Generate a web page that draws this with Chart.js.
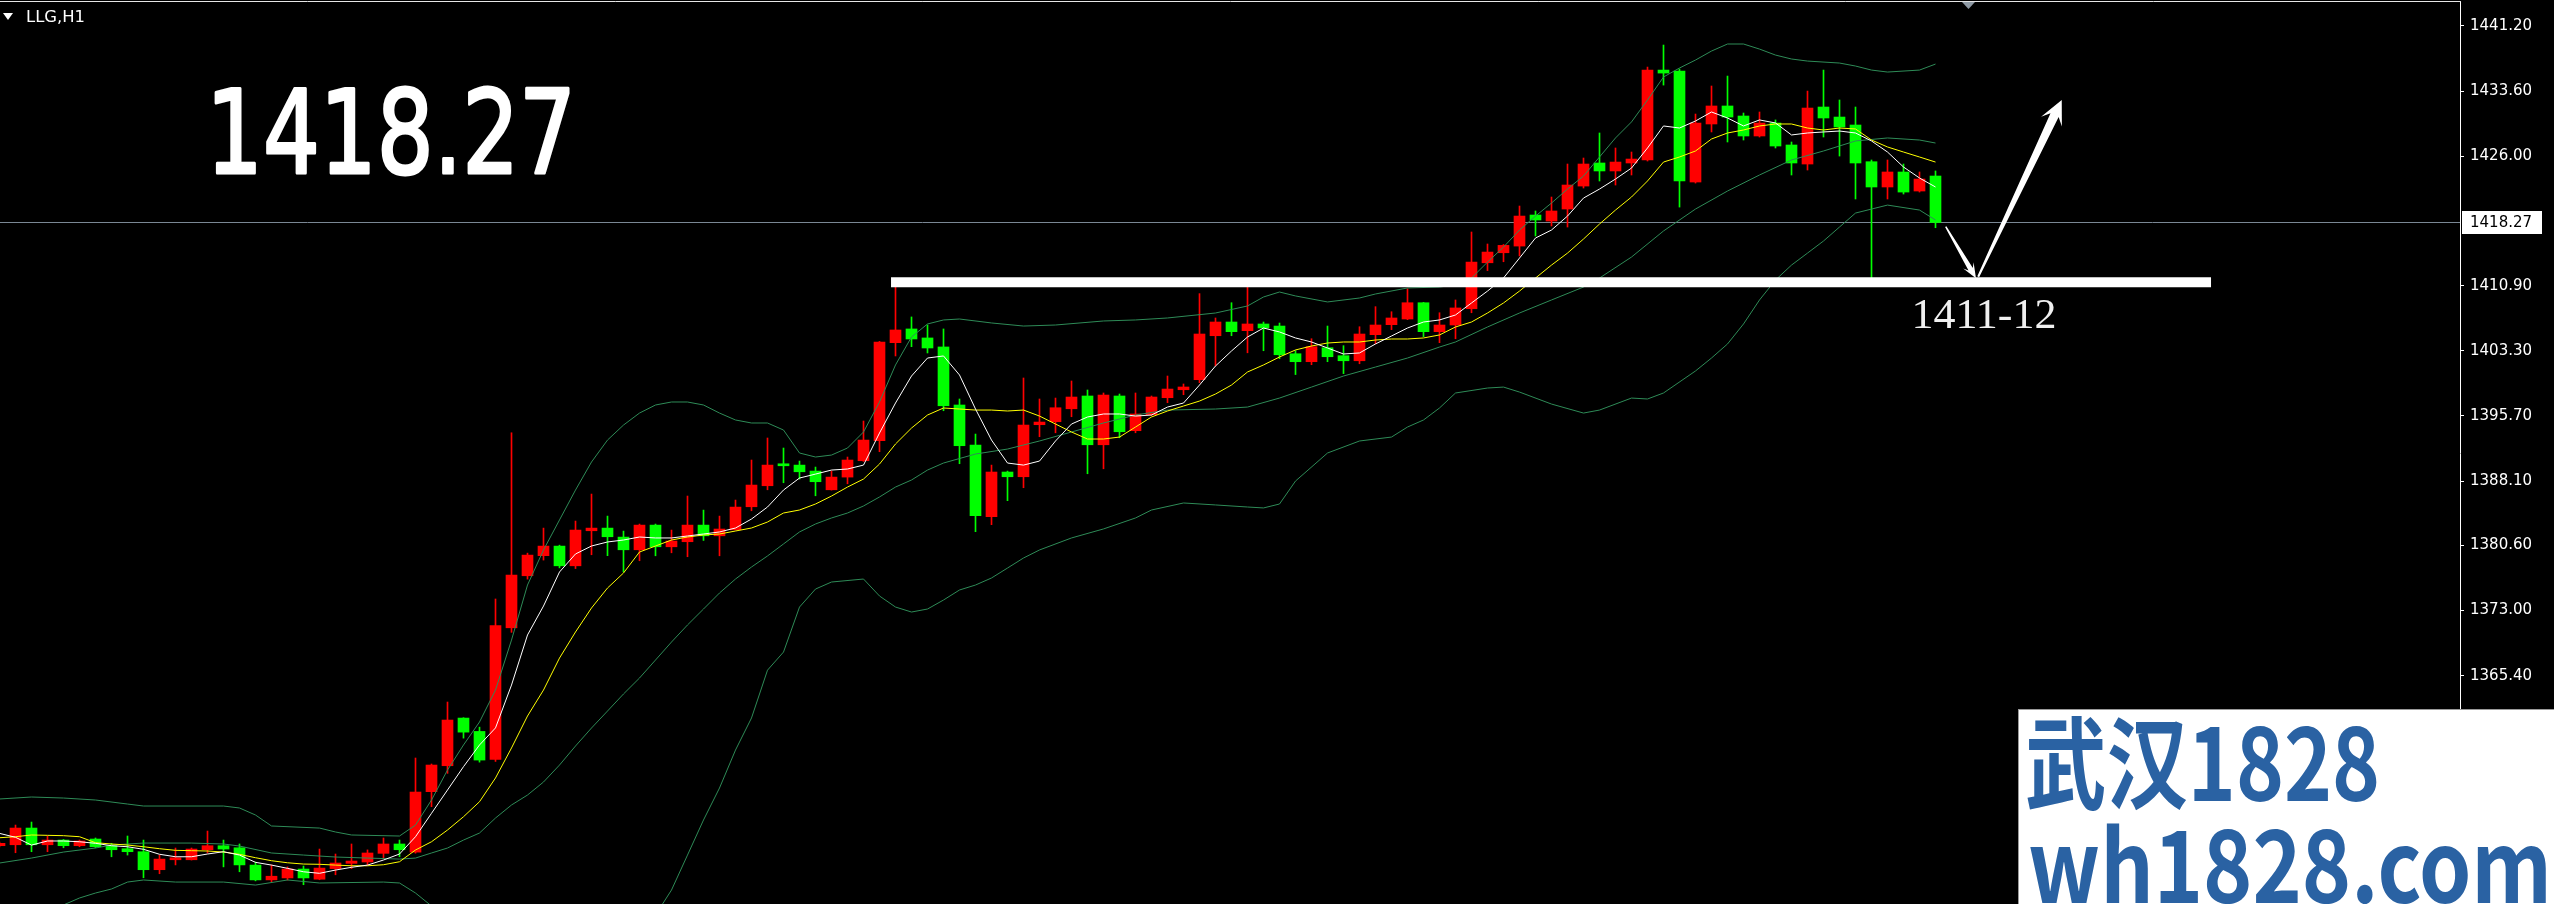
<!DOCTYPE html>
<html>
<head>
<meta charset="utf-8">
<title>LLG,H1</title>
<script src="https://cdn.jsdelivr.net/npm/chart.js@4.4.1/dist/chart.umd.min.js"></script>
<style>
  html, body { margin: 0; padding: 0; background: #000; overflow: hidden; }
  canvas { display: block; }
</style>
</head>
<body>
<canvas id="llgChart" width="2554" height="904"></canvas>
<script>
const symbolTitle = 'LLG,H1'

// hourly candles, oldest first
const candleOpen = [
  1345.57, 1345.68, 1347.63, 1345.68, 1346.23, 1345.57, 1346.35, 1345.57, 1345.22, 1344.87,
  1342.77, 1343.93, 1343.93, 1345.10, 1345.57, 1345.33, 1343.31, 1341.58, 1341.81, 1342.85,
  1341.66, 1342.90, 1343.51, 1343.67, 1344.68, 1345.77, 1344.82, 1351.87, 1354.90, 1360.46,
  1358.90, 1355.64, 1370.99, 1377.06, 1379.40, 1380.52, 1378.22, 1382.31, 1382.62, 1381.57,
  1380.09, 1382.97, 1380.44, 1381.03, 1382.97, 1381.72, 1382.42, 1385.11, 1387.56, 1390.09,
  1389.97, 1389.27, 1387.09, 1388.57, 1390.48, 1392.81, 1404.25, 1405.85, 1404.80, 1403.75,
  1396.98, 1392.31, 1383.95, 1389.16, 1388.61, 1394.68, 1395.03, 1396.54, 1398.03, 1392.34,
  1398.03, 1393.98, 1395.85, 1397.83, 1398.76, 1399.93, 1405.06, 1406.66, 1405.65, 1406.43,
  1406.19, 1402.96, 1402.03, 1403.66, 1402.73, 1402.14, 1405.18, 1406.35, 1407.01, 1408.91,
  1405.53, 1406.31, 1408.21, 1413.57, 1414.74, 1415.52, 1419.14, 1418.44, 1419.84, 1422.52,
  1425.21, 1424.28, 1425.21, 1425.56, 1436.05, 1435.94, 1422.99, 1429.76, 1431.86, 1430.69,
  1428.36, 1429.87, 1427.31, 1425.09, 1431.74, 1430.57, 1429.64, 1425.36, 1422.41, 1424.16,
  1421.94, 1423.69
]
const candleHigh = [
  1345.99, 1347.98, 1348.33, 1346.70, 1346.30, 1346.23, 1346.47, 1345.85, 1346.70, 1346.23,
  1344.48, 1345.30, 1345.30, 1347.28, 1346.23, 1345.77, 1343.66, 1343.33, 1343.10, 1343.20,
  1345.18, 1344.60, 1345.77, 1345.08, 1346.47, 1346.23, 1355.80, 1355.10, 1362.33, 1360.50,
  1359.40, 1374.35, 1393.74, 1379.70, 1382.62, 1380.63, 1383.44, 1386.59, 1384.02, 1382.27,
  1383.09, 1383.09, 1382.39, 1386.36, 1384.72, 1384.02, 1385.89, 1390.56, 1393.13, 1391.96,
  1390.44, 1389.74, 1389.27, 1390.91, 1395.11, 1404.40, 1410.77, 1407.25, 1406.31, 1405.85,
  1397.68, 1393.59, 1389.97, 1389.27, 1400.13, 1397.68, 1397.79, 1399.78, 1398.73, 1398.38,
  1398.26, 1398.38, 1398.03, 1400.36, 1399.43, 1409.97, 1407.13, 1408.91, 1410.77, 1406.66,
  1406.54, 1403.31, 1404.71, 1406.19, 1403.90, 1406.11, 1408.45, 1407.86, 1410.54, 1408.95,
  1407.74, 1409.23, 1417.16, 1415.76, 1415.70, 1420.19, 1419.61, 1421.24, 1425.09, 1425.79,
  1428.71, 1426.96, 1426.49, 1436.40, 1438.97, 1436.17, 1430.92, 1434.19, 1435.35, 1431.04,
  1431.16, 1430.23, 1427.66, 1433.60, 1436.05, 1432.56, 1431.74, 1425.56, 1425.56, 1425.09,
  1424.16, 1424.28
]
const candleLow = [
  1345.42, 1344.75, 1344.87, 1344.87, 1345.33, 1345.45, 1345.33, 1344.28, 1344.48, 1341.83,
  1342.30, 1343.33, 1343.90, 1344.72, 1343.10, 1342.53, 1341.47, 1341.37, 1341.56, 1341.02,
  1341.60, 1342.18, 1342.90, 1343.33, 1344.05, 1344.28, 1344.70, 1350.12, 1354.01, 1358.12,
  1355.32, 1355.40, 1370.46, 1376.67, 1378.89, 1377.98, 1377.90, 1379.51, 1379.40, 1377.52,
  1378.81, 1379.39, 1379.74, 1379.28, 1381.18, 1379.39, 1382.40, 1384.64, 1387.09, 1387.91,
  1388.34, 1386.39, 1387.05, 1387.79, 1390.40, 1391.53, 1402.70, 1403.78, 1403.05, 1396.31,
  1390.13, 1382.20, 1383.02, 1385.82, 1387.33, 1393.28, 1393.74, 1395.61, 1388.96, 1389.54,
  1393.16, 1393.74, 1395.73, 1397.25, 1398.18, 1399.58, 1401.56, 1405.06, 1403.07, 1403.31,
  1402.38, 1400.53, 1401.68, 1402.03, 1400.64, 1401.79, 1404.12, 1405.77, 1406.93, 1404.95,
  1404.25, 1404.71, 1407.74, 1412.66, 1413.69, 1414.36, 1416.69, 1417.86, 1417.74, 1422.29,
  1423.11, 1422.64, 1423.81, 1425.44, 1434.30, 1420.07, 1422.87, 1428.83, 1427.66, 1427.89,
  1428.24, 1426.96, 1423.81, 1424.39, 1428.24, 1426.02, 1421.01, 1411.56, 1421.01, 1421.59,
  1421.82, 1417.66
]
const candleClose = [
  1345.85, 1347.63, 1345.68, 1346.23, 1345.57, 1346.12, 1345.45, 1345.10, 1344.87, 1342.77,
  1344.01, 1344.05, 1345.18, 1345.57, 1345.18, 1343.33, 1341.58, 1342.01, 1342.85, 1341.81,
  1342.96, 1343.55, 1343.78, 1344.72, 1345.77, 1345.10, 1351.83, 1354.98, 1360.23, 1358.82,
  1355.56, 1371.26, 1377.14, 1379.47, 1380.52, 1378.22, 1382.39, 1382.62, 1381.61, 1380.09,
  1382.97, 1380.44, 1381.11, 1382.97, 1381.72, 1382.51, 1385.07, 1387.64, 1389.97, 1389.89,
  1389.19, 1388.03, 1388.57, 1390.56, 1392.89, 1404.33, 1405.73, 1404.68, 1403.63, 1396.89,
  1392.23, 1384.07, 1389.16, 1388.61, 1394.64, 1394.99, 1396.66, 1397.91, 1392.34, 1398.14,
  1393.86, 1395.93, 1397.91, 1398.84, 1399.08, 1405.26, 1406.66, 1405.53, 1406.43, 1405.96,
  1402.84, 1402.03, 1403.78, 1402.61, 1402.14, 1405.26, 1406.31, 1407.13, 1408.91, 1405.53,
  1406.31, 1408.30, 1413.65, 1414.82, 1415.60, 1419.02, 1418.56, 1419.61, 1422.64, 1425.09,
  1424.28, 1425.32, 1425.67, 1436.05, 1435.70, 1423.11, 1429.87, 1431.86, 1430.57, 1428.36,
  1429.87, 1427.19, 1425.21, 1431.62, 1430.46, 1429.41, 1425.21, 1422.41, 1424.16, 1421.82,
  1423.34, 1418.27
]

// moving averages, one value per candle
const maFast = [
  1347.01, 1346.55, 1345.64, 1346.12, 1346.12, 1346.03, 1345.85, 1345.57, 1345.45, 1345.15,
  1344.57, 1344.28, 1344.28, 1344.60, 1344.87, 1344.48, 1343.63, 1343.31, 1342.93, 1342.53,
  1342.35, 1342.73, 1343.05, 1343.31, 1343.90, 1344.60, 1346.62, 1349.35, 1352.07, 1354.79,
  1357.32, 1359.31, 1364.31, 1370.15, 1373.53, 1377.50, 1379.60, 1380.53, 1381.00, 1381.23,
  1381.58, 1381.47, 1381.47, 1381.70, 1381.93, 1382.17, 1382.63, 1383.68, 1385.08, 1387.06,
  1388.46, 1388.92, 1389.39, 1389.51, 1389.97, 1393.71, 1397.21, 1400.36, 1402.46, 1402.70,
  1400.48, 1396.51, 1392.89, 1390.21, 1389.97, 1390.44, 1392.78, 1394.76, 1395.58, 1395.93,
  1395.93, 1395.69, 1395.81, 1396.74, 1397.21, 1399.31, 1401.53, 1403.28, 1404.91, 1405.96,
  1405.50, 1404.80, 1404.33, 1403.63, 1402.93, 1403.05, 1404.10, 1405.03, 1405.96, 1406.66,
  1406.90, 1407.48, 1408.88, 1410.27, 1411.79, 1414.12, 1416.46, 1417.39, 1419.02, 1421.12,
  1422.17, 1423.34, 1424.62, 1426.96, 1429.53, 1429.29, 1430.11, 1431.16, 1430.46, 1429.53,
  1430.23, 1429.88, 1428.48, 1428.71, 1428.83, 1428.94, 1428.71, 1427.78, 1426.49, 1424.74,
  1423.46, 1422.41
]
const maSlow = [
  1346.50, 1346.62, 1346.82, 1346.78, 1346.74, 1346.62, 1345.92, 1345.77, 1345.65, 1345.45,
  1345.22, 1345.03, 1344.99, 1344.95, 1344.83, 1344.56, 1344.17, 1343.82, 1343.58, 1343.43,
  1343.40, 1343.31, 1343.23, 1343.23, 1343.35, 1343.70, 1345.07, 1346.03, 1347.40, 1348.95,
  1350.70, 1353.47, 1356.97, 1360.70, 1363.73, 1367.46, 1370.50, 1373.30, 1375.63, 1377.38,
  1379.83, 1380.53, 1381.23, 1381.58, 1381.82, 1381.93, 1382.28, 1382.63, 1383.33, 1384.38,
  1384.73, 1385.43, 1386.36, 1387.41, 1388.34, 1390.09, 1392.43, 1394.29, 1395.81, 1396.63,
  1396.51, 1396.39, 1396.39, 1396.28, 1396.39, 1395.69, 1394.76, 1393.83, 1393.01, 1393.01,
  1393.24, 1394.41, 1395.58, 1396.28, 1396.86, 1397.44, 1398.26, 1399.31, 1400.83, 1401.65,
  1402.58, 1403.40, 1403.86, 1404.21, 1404.33, 1404.33, 1404.56, 1404.68, 1404.68, 1404.80,
  1405.15, 1406.08, 1406.66, 1407.71, 1408.88, 1410.27, 1411.79, 1413.30, 1414.70, 1416.34,
  1418.09, 1419.72, 1421.24, 1423.11, 1425.32, 1425.91, 1426.61, 1428.01, 1428.71, 1429.06,
  1429.53, 1429.76, 1429.76, 1429.29, 1429.06, 1429.29, 1429.18, 1427.89, 1427.08, 1426.49,
  1425.91, 1425.32
]

// bollinger bands, [candle, price]
const bandUpper = [
  [0, 1351.02], [2, 1351.25], [4, 1351.13], [6, 1350.90], [8, 1350.43], [9, 1350.20], [14, 1350.20],
  [15, 1349.97], [16, 1349.15], [17, 1347.87], [20, 1347.63], [21, 1347.17], [22, 1346.82], [25, 1346.70],
  [26, 1347.98], [27, 1350.90], [28, 1354.40], [29, 1357.32], [30, 1360.00], [31, 1363.73], [32, 1369.56],
  [33, 1375.98], [34, 1380.07], [35, 1383.57], [36, 1387.06], [37, 1390.33], [38, 1392.89], [39, 1394.64],
  [40, 1396.04], [41, 1396.98], [42, 1397.33], [43, 1397.33], [44, 1396.98], [45, 1396.04], [46, 1395.23],
  [47, 1394.88], [48, 1394.88], [49, 1394.06], [50, 1391.38], [51, 1390.91], [52, 1391.14], [53, 1391.96],
  [54, 1393.83], [55, 1397.33], [56, 1401.65], [57, 1404.91], [58, 1406.43], [59, 1406.90], [60, 1407.01],
  [62, 1406.55], [64, 1406.19], [66, 1406.31], [69, 1406.78], [71, 1406.90], [73, 1407.13], [76, 1407.71],
  [78, 1408.53], [79, 1409.58], [80, 1410.16], [81, 1409.70], [83, 1409.00], [85, 1409.46], [86, 1409.93],
  [88, 1410.63], [90, 1410.74], [91, 1410.98], [92, 1411.79], [93, 1413.65], [94, 1415.40], [95, 1417.39],
  [96, 1419.02], [97, 1420.54], [98, 1422.17], [99, 1423.69], [100, 1425.91], [101, 1428.13], [102, 1430.00],
  [103, 1432.56], [104, 1435.24], [105, 1436.29], [106, 1437.22], [107, 1438.27], [108, 1439.09], [109, 1439.09],
  [110, 1438.50], [111, 1437.80], [112, 1437.34], [113, 1437.10], [115, 1436.87], [116, 1436.52], [117, 1436.05],
  [118, 1435.82], [120, 1436.05], [121, 1436.75]
]
const bandMiddle = [
  [0, 1343.55], [2, 1344.13], [4, 1344.83], [6, 1345.30], [7, 1345.65], [9, 1345.88], [12, 1345.88],
  [14, 1345.77], [15, 1345.53], [17, 1344.72], [19, 1344.48], [21, 1344.25], [23, 1344.13], [25, 1344.01],
  [26, 1344.13], [27, 1344.72], [28, 1345.30], [29, 1346.23], [30, 1347.05], [31, 1348.80], [32, 1350.32],
  [33, 1351.48], [34, 1353.00], [35, 1354.98], [36, 1357.20], [37, 1359.30], [38, 1361.28], [39, 1363.27],
  [40, 1365.13], [41, 1367.23], [42, 1369.33], [43, 1371.32], [44, 1373.18], [45, 1375.05], [46, 1376.68],
  [47, 1378.08], [48, 1379.37], [49, 1380.77], [50, 1382.17], [51, 1383.10], [52, 1383.80], [53, 1384.38],
  [54, 1385.20], [55, 1386.25], [56, 1387.41], [57, 1388.23], [58, 1389.39], [59, 1390.21], [61, 1391.26],
  [63, 1391.84], [65, 1392.78], [67, 1393.83], [69, 1394.88], [71, 1395.81], [73, 1396.39], [76, 1396.51],
  [78, 1396.74], [80, 1397.79], [82, 1399.07], [84, 1400.36], [86, 1401.41], [88, 1402.46], [90, 1403.74],
  [91, 1404.33], [93, 1406.08], [95, 1407.71], [97, 1409.23], [99, 1410.74], [100, 1411.79], [102, 1414.24],
  [104, 1417.28], [106, 1419.84], [108, 1421.94], [110, 1423.81], [112, 1425.56], [114, 1426.61], [116, 1427.78],
  [118, 1428.13], [120, 1427.89], [121, 1427.54]
]
const bandLower = [
  [0, 1336.32], [3, 1337.84], [4, 1338.66], [5, 1339.47], [6, 1340.05], [7, 1340.52], [8, 1341.33],
  [9, 1341.57], [11, 1341.33], [14, 1341.33], [16, 1340.98], [18, 1341.57], [20, 1341.22], [24, 1341.33],
  [25, 1341.22], [26, 1340.05], [27, 1338.54], [28, 1336.32], [30, 1333.40], [34, 1327.57], [38, 1330.49],
  [40, 1335.16], [41, 1337.49], [42, 1340.40], [43, 1344.48], [44, 1348.57], [45, 1352.30], [46, 1356.73],
  [47, 1360.47], [48, 1366.05], [49, 1368.16], [50, 1373.41], [51, 1375.51], [52, 1376.33], [54, 1376.68],
  [55, 1374.70], [56, 1373.41], [57, 1372.83], [58, 1373.18], [59, 1374.23], [60, 1375.40], [61, 1375.98],
  [62, 1376.80], [63, 1377.96], [64, 1379.13], [65, 1380.07], [67, 1381.47], [69, 1382.52], [71, 1383.80],
  [72, 1384.73], [74, 1385.55], [76, 1385.32], [78, 1385.08], [79, 1384.97], [80, 1385.43], [81, 1388.11],
  [83, 1391.38], [85, 1392.78], [87, 1393.24], [88, 1394.41], [89, 1395.23], [90, 1396.63], [91, 1398.38],
  [93, 1398.96], [94, 1399.07], [95, 1398.49], [97, 1397.09], [99, 1396.04], [100, 1396.39], [102, 1397.79],
  [103, 1397.68], [104, 1398.38], [106, 1400.95], [107, 1402.46], [108, 1404.10], [109, 1406.43], [110, 1409.23],
  [111, 1411.56], [112, 1413.30], [113, 1414.70], [114, 1416.11], [115, 1417.74], [116, 1419.37], [118, 1420.30],
  [120, 1419.72], [121, 1418.56]
]

const yTicks = [1441.20, 1433.60, 1426.00, 1410.90, 1403.30, 1395.70, 1388.10, 1380.60, 1373.00, 1365.40]
const Y_MIN = 1338.77
const Y_MAX = 1443.99
const X_MIN = 0.03125
const X_MAX = 153.78125

// hand drawn marks, in [candle, price]
const supportLevel = 1411.3
const supportSpan = [55.72, 138.22]
const targetLabel = { text: '1411-12', at: [119.5, 1405.95] }
const forecastLegs = [
  [[121.64, 1417.78], [123.53, 1411.76]],
  [[123.67, 1411.94], [128.89, 1432.56]]
]

const lastClose = candleClose[candleClose.length - 1]
const UP = '#ff0000'
const DOWN = '#00ff00'
const candleColors = candleClose.map((c, i) => c >= candleOpen[i] ? UP : DOWN)

function fitText(ctx, text, left, baseline, width, font, thicken) {
    ctx.font = font
    const w = ctx.measureText(text).width
    ctx.save()
    ctx.translate(left, baseline)
    ctx.scale(width / w, 1)
    ctx.fillText(text, 0, 0)
    if (thicken) {
        ctx.lineWidth = thicken
        ctx.lineJoin = 'round'
        ctx.strokeStyle = ctx.fillStyle
        ctx.strokeText(text, 0, 0)
    }
    ctx.restore()
}

function drawArrow(ctx, x0, y0, x1, y1, s) {
    const len = Math.hypot(x1 - x0, y1 - y0)
    const ux = (x1 - x0) / len, uy = (y1 - y0) / len
    const nx = -uy, ny = ux
    const bx = x1 - ux * s.head, by = y1 - uy * s.head
    const nk = s.head * 0.3
    ctx.beginPath()
    ctx.moveTo(x0 + nx * s.tail / 2, y0 + ny * s.tail / 2)
    ctx.lineTo(bx + ux * nk + nx * s.neck / 2, by + uy * nk + ny * s.neck / 2)
    ctx.lineTo(bx + nx * s.spread / 2, by + ny * s.spread / 2)
    ctx.lineTo(x1, y1)
    ctx.lineTo(bx - nx * s.spread / 2, by - ny * s.spread / 2)
    ctx.lineTo(bx + ux * nk - nx * s.neck / 2, by + uy * nk - ny * s.neck / 2)
    ctx.lineTo(x0 - nx * s.tail / 2, y0 - ny * s.tail / 2)
    ctx.closePath()
    ctx.fill()
}

const overlay = {
    id: 'overlay',
    beforeDatasetsDraw(chart) {
        const { ctx, chartArea: a, scales: { y } } = chart
        const py = Math.round(y.getPixelForValue(lastClose)) + 0.5
        ctx.save()
        ctx.strokeStyle = '#7a8794'
        ctx.lineWidth = 1
        ctx.beginPath()
        ctx.moveTo(a.left, py)
        ctx.lineTo(a.right, py)
        ctx.stroke()
        ctx.restore()
    },
    afterDraw(chart) {
        const { ctx, chartArea: a, scales: { x, y } } = chart
        ctx.save()

        // window frame + shift marker
        ctx.strokeStyle = '#e6e6e6'
        ctx.lineWidth = 1
        ctx.beginPath()
        ctx.moveTo(0, 1.5)
        ctx.lineTo(a.right + 1, 1.5)
        ctx.stroke()
        ctx.fillStyle = '#8e99a4'
        ctx.beginPath()
        ctx.moveTo(1962, 2); ctx.lineTo(1975, 2); ctx.lineTo(1968.5, 9)
        ctx.closePath()
        ctx.fill()

        // symbol caption
        ctx.fillStyle = '#ffffff'
        ctx.beginPath()
        ctx.moveTo(3, 13); ctx.lineTo(13, 13); ctx.lineTo(8, 20)
        ctx.closePath()
        ctx.fill()
        ctx.textBaseline = 'alphabetic'
        fitText(ctx, symbolTitle, 26, 22, 59, '15px "DejaVu Sans"')

        // big price note
        fitText(ctx, lastClose.toFixed(2), 206, 173, 370, '115px "DejaVu Sans"', 3)

        // forecast arrows
        const legStyle = [
            { tail: 1.5, neck: 5, head: 15, spread: 12 },
            { tail: 2, neck: 9, head: 24, spread: 23 }
        ]
        forecastLegs.forEach((leg, k) => {
            drawArrow(ctx,
                x.getPixelForValue(leg[0][0]), y.getPixelForValue(leg[0][1]),
                x.getPixelForValue(leg[1][0]), y.getPixelForValue(leg[1][1]), legStyle[k])
        })

        // target text
        ctx.fillStyle = '#f0f0f0'
        fitText(ctx, targetLabel.text, x.getPixelForValue(targetLabel.at[0]),
            y.getPixelForValue(targetLabel.at[1]), 145, '43px "Liberation Serif"')

        // current price tag on the axis
        const py = Math.round(y.getPixelForValue(lastClose))
        ctx.fillStyle = '#ffffff'
        ctx.fillRect(a.right + 2, py - 11, 80, 23)
        ctx.fillStyle = '#000000'
        ctx.font = '15px "DejaVu Sans"'
        ctx.textBaseline = 'middle'
        ctx.fillText(lastClose.toFixed(2), a.right + 10, py + 1)

        // site watermark
        ctx.fillStyle = '#ffffff'
        ctx.fillRect(2018, 709, 536, 195)
        ctx.strokeStyle = '#9a9a9a'
        ctx.strokeRect(2018.5, 709.5, 540, 200)
        ctx.fillStyle = '#2a62a3'
        ctx.textBaseline = 'alphabetic'
        fitText(ctx, '武汉1828', 2025, 801, 355, 'bold 100px "Noto Sans CJK SC"')
        fitText(ctx, 'wh1828.com', 2028, 903, 524, 'bold 100px "Noto Sans CJK SC"')

        ctx.restore()
    }
}

const lineSet = (label, points, color, width, order) => ({
    type: 'line', label, data: points, borderColor: color, borderWidth: width,
    pointRadius: 0, tension: 0, fill: false, order
})

const ctx = document.getElementById('llgChart').getContext('2d')
const llgChart = new Chart(ctx, {
    type: 'bar',
    data: {
        datasets: [
            Object.assign(lineSet('support', [{ x: supportSpan[0], y: supportLevel }, { x: supportSpan[1], y: supportLevel }], '#ffffff', 10, 0), { borderCapStyle: 'butt' }),
            lineSet('MA fast', maFast.map((v, i) => ({ x: i, y: v })), '#ffffff', 1, 1),
            lineSet('MA slow', maSlow.map((v, i) => ({ x: i, y: v })), '#ffff00', 1, 1),
            lineSet('BB upper', bandUpper.map(([x, y]) => ({ x, y })), '#2e8b57', 1, 2),
            lineSet('BB middle', bandMiddle.map(([x, y]) => ({ x, y })), '#2e8b57', 1, 2),
            lineSet('BB lower', bandLower.map(([x, y]) => ({ x, y })), '#2e8b57', 1, 2),
            {
                label: 'body',
                data: candleOpen.map((o, i) => ({ x: i, y: [o, candleClose[i]] })),
                backgroundColor: candleColors,
                borderWidth: 0,
                barThickness: 11,
                minBarLength: 2,
                grouped: false,
                order: 3
            },
            {
                label: 'wick',
                data: candleLow.map((l, i) => ({ x: i, y: [l, candleHigh[i]] })),
                backgroundColor: candleColors,
                borderWidth: 0,
                barThickness: 1,
                grouped: false,
                order: 4
            }
        ]
    },
    options: {
        responsive: false,
        animation: false,
        devicePixelRatio: 1,
        events: [],
        layout: { padding: { top: 2, left: 0, right: 0, bottom: 0 }, autoPadding: false },
        plugins: { legend: { display: false }, tooltip: { enabled: false } },
        scales: {
            x: { type: 'linear', display: false, min: X_MIN, max: X_MAX, offset: false },
            y: {
                position: 'right',
                min: Y_MIN,
                max: Y_MAX,
                afterBuildTicks: s => { s.ticks = yTicks.map(v => ({ value: v })) },
                afterFit: s => { s.width = 94; s.paddingTop = 0; s.paddingBottom = 0 },
                grid: { drawOnChartArea: false, drawTicks: true, tickLength: 4, color: '#ffffff', tickColor: '#ffffff' },
                border: { display: true, color: '#ffffff', width: 1 },
                ticks: {
                    color: '#ffffff',
                    padding: 6,
                    autoSkip: false,
                    font: { family: 'DejaVu Sans', size: 15 },
                    callback: v => Number(v).toFixed(2)
                }
            }
        }
    },
    plugins: [overlay]
})
</script>
</body>
</html>
